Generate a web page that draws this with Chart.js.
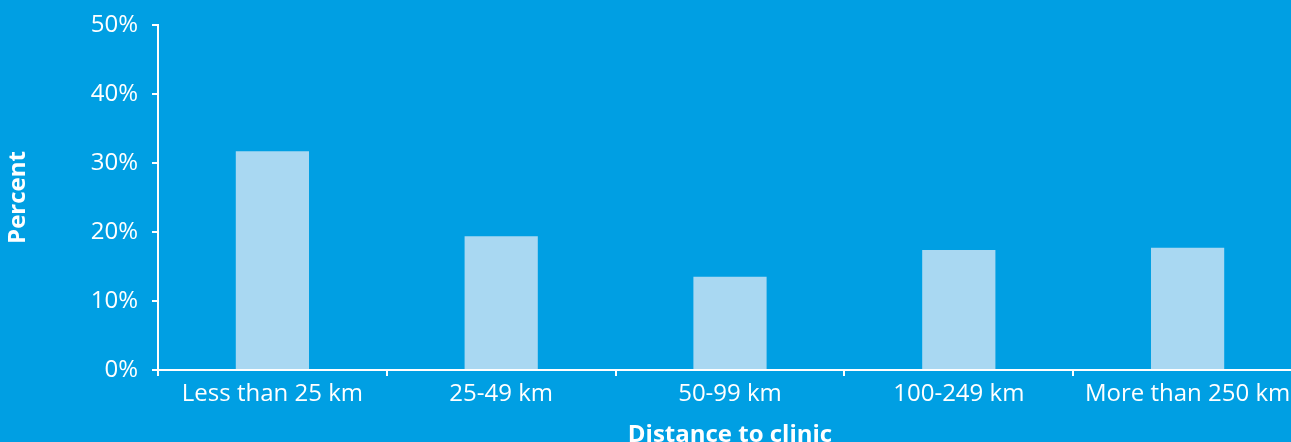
<!DOCTYPE html>
<html>
<head>
<meta charset="utf-8">
<script src="https://cdn.jsdelivr.net/npm/chart.js@4"></script>
<style>
  html, body { margin:0; padding:0; width:1291px; height:442px; overflow:hidden; background:#009FE3; }
  #wrap { position:absolute; left:0; top:0; width:1305px; height:454px; }
</style>
</head>
<body>
<div id="wrap"><canvas id="c" width="1305" height="454"></canvas></div>
<script>
const categories = ['Less than 25 km', '25-49 km', '50-99 km', '100-249 km', 'More than 250 km'];
const percentValues = [31.7, 19.4, 13.5, 17.4, 17.7];
const yTickValues = [0, 10, 20, 30, 40, 50];
const xTitle = 'Distance to clinic';
const yTitle = 'Percent';

const BG = '#009FE3';
const BAR = '#A9D8F2';
const WHITE = '#FFFFFF';
const FONT = "'Open Sans', 'Noto Sans', sans-serif";
const FS = 24;

const bgPlugin = {
  id: 'bg',
  beforeDraw(chart) {
    const ctx = chart.ctx;
    ctx.save();
    ctx.fillStyle = BG;
    ctx.fillRect(0, 0, chart.width, chart.height);
    ctx.restore();
  }
};

new Chart(document.getElementById('c'), {
  type: 'bar',
  data: {
    labels: categories,
    datasets: [{
      data: percentValues,
      backgroundColor: BAR,
      borderWidth: 0,
      barPercentage: 0.32,
      categoryPercentage: 1.0
    }]
  },
  options: {
    responsive: false,
    animation: false,
    devicePixelRatio: 1,
    layout: { padding: { left: 0, right: 3, top: 25, bottom: 0 } },
    plugins: { legend: { display: false }, tooltip: { enabled: false } },
    scales: {
      x: {
        offset: true,
        grid: { display: true, drawOnChartArea: false, drawTicks: true, tickLength: 6, color: WHITE, lineWidth: 2, offset: true },
        border: { display: true, color: WHITE, width: 2 },
        ticks: { color: WHITE, font: { family: FONT, size: FS }, padding: 4, maxRotation: 0, autoSkip: false },
        title: { display: true, text: xTitle, color: WHITE, font: { family: FONT, size: FS, weight: 'bold' }, padding: { top: 4, bottom: 4 } },
        afterFit(scale) { scale.height = 84; scale.paddingLeft = 0; scale.paddingRight = 0; }
      },
      y: {
        min: 0, max: 50,
        afterBuildTicks(scale) { scale.ticks = yTickValues.map(v => ({ value: v })); },
        grid: { display: true, drawOnChartArea: false, drawTicks: true, tickLength: 6, color: WHITE, lineWidth: 2 },
        border: { display: true, color: WHITE, width: 2 },
        ticks: { color: WHITE, font: { family: FONT, size: FS }, padding: 14, callback: v => v + '%' },
        title: { display: true, text: yTitle, color: WHITE, font: { family: FONT, size: FS, weight: 'bold' }, padding: { top: 4, bottom: 4 } },
        afterFit(scale) { scale.width = 158; scale.paddingTop = 0; scale.paddingBottom = 0; }
      }
    }
  },
  plugins: [bgPlugin]
});
</script>
</body>
</html>
